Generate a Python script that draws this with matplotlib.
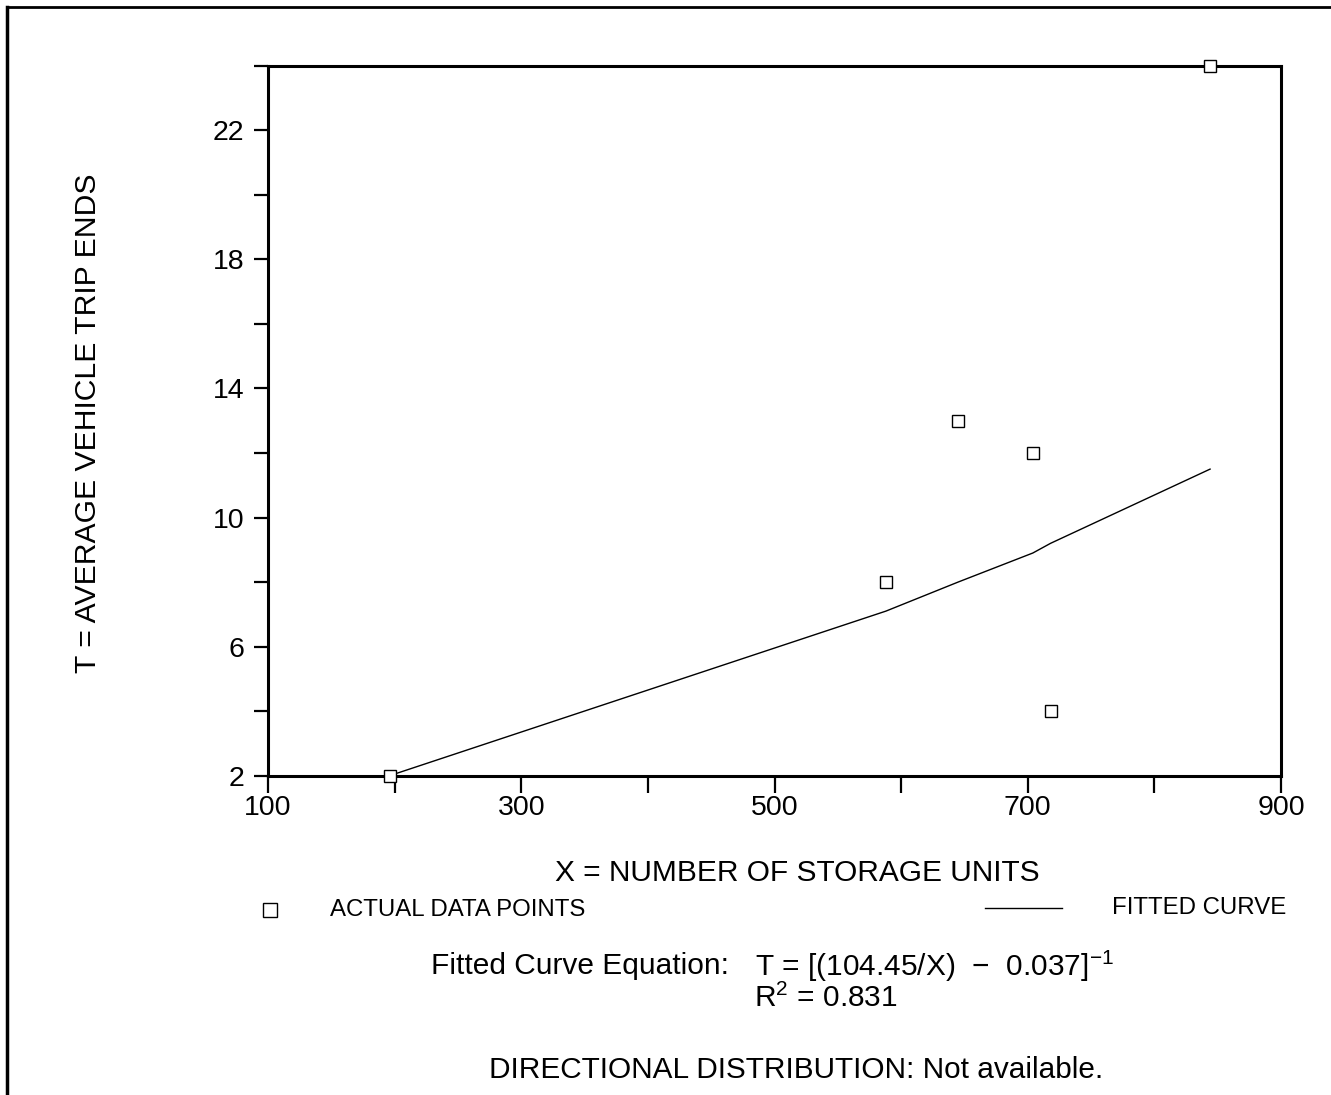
import matplotlib
matplotlib.use("Agg")
from matplotlib import pyplot as plt
from matplotlib.lines import Line2D
from matplotlib.ticker import MultipleLocator, NullFormatter

plt.rcParams['font.family'] = ['Liberation Sans', 'DejaVu Sans']
plt.rcParams['mathtext.fontset'] = 'custom'
plt.rcParams['mathtext.rm'] = 'Liberation Sans'

# actual data points (storage units, trip ends)
units = [196, 588, 645, 704, 718, 844]
trips = [2, 8, 13, 12, 4, 24]

# fitted curve as drawn (polyline through the data x values)
curve_x = [196, 588, 645, 704, 718, 844]
curve_t = [2.0, 7.1, 8.0, 8.9, 9.2, 11.5]

x_major = [100, 300, 500, 700, 900]
y_major = [2, 6, 10, 14, 18, 22]

W, H = 1331, 1095
fig = plt.figure(figsize=(W / 100, H / 100), dpi=100)

def fx(px):
    return px / W

def fy(py):
    return 1 - py / H

# page frame, left and top only
fig.add_artist(Line2D([fx(7), fx(7)], [fy(7), 0], color='black', lw=2.5))
fig.add_artist(Line2D([fx(7), 1], [fy(7), fy(7)], color='black', lw=2.0))

ax = fig.add_axes([fx(268), fy(775.7), fx(1281) - fx(268), fy(65.7) - fy(775.7)])
ax.plot(curve_x, curve_t, color='black', lw=1.0, zorder=2)
ax.plot(units, trips, linestyle='none', marker='s', markersize=9,
        markerfacecolor='white', markeredgecolor='black', markeredgewidth=1.0,
        clip_on=False, zorder=3)

ax.set_xlim(100, 900)
ax.set_ylim(2, 24)
ax.set_xticks(x_major)
ax.set_yticks(y_major)
ax.xaxis.set_minor_locator(MultipleLocator(100))
ax.yaxis.set_minor_locator(MultipleLocator(2))
ax.xaxis.set_minor_formatter(NullFormatter())
ax.yaxis.set_minor_formatter(NullFormatter())
ax.tick_params(which='both', direction='out', width=1.6, colors='black',
               labelsize=20.5)
ax.tick_params(axis='x', which='both', length=12, pad=2)
ax.tick_params(axis='y', which='both', length=10, pad=7)
for s in ax.spines.values():
    s.set_linewidth(2.2)

fig.text(fx(88), fy(423), 'T = AVERAGE VEHICLE TRIP ENDS', rotation=90,
         ha='center', va='center', fontsize=21.7)
fig.text(fx(797), fy(873), 'X = NUMBER OF STORAGE UNITS',
         ha='center', va='center', fontsize=21.5)

# legend
fig.add_artist(Line2D([fx(270)], [fy(910)], marker='s', markersize=10,
                      markerfacecolor='white', markeredgecolor='black',
                      markeredgewidth=1.0, linestyle='none'))
fig.text(fx(330), fy(910), 'ACTUAL DATA POINTS', ha='left', va='center',
         fontsize=17.3)
fig.add_artist(Line2D([fx(985), fx(1062)], [fy(908), fy(908)], color='black',
                      lw=1.0))
fig.text(fx(1112), fy(908), 'FITTED CURVE', ha='left', va='center',
         fontsize=17.3)

fig.text(fx(431), fy(966), 'Fitted Curve Equation:',
         ha='left', va='center', fontsize=21.5)
fig.text(fx(755), fy(966), 'T = [(104.45/X)  $-$  0.037]$^{-1}$',
         ha='left', va='center', fontsize=21.5)
fig.text(fx(754), fy(998), 'R$^{2}$ = 0.831', ha='left', va='center',
         fontsize=21.5)
fig.text(fx(796), fy(1070), 'DIRECTIONAL DISTRIBUTION: Not available.',
         ha='center', va='center', fontsize=21.4)

fig.savefig('out.png', dpi=100)
